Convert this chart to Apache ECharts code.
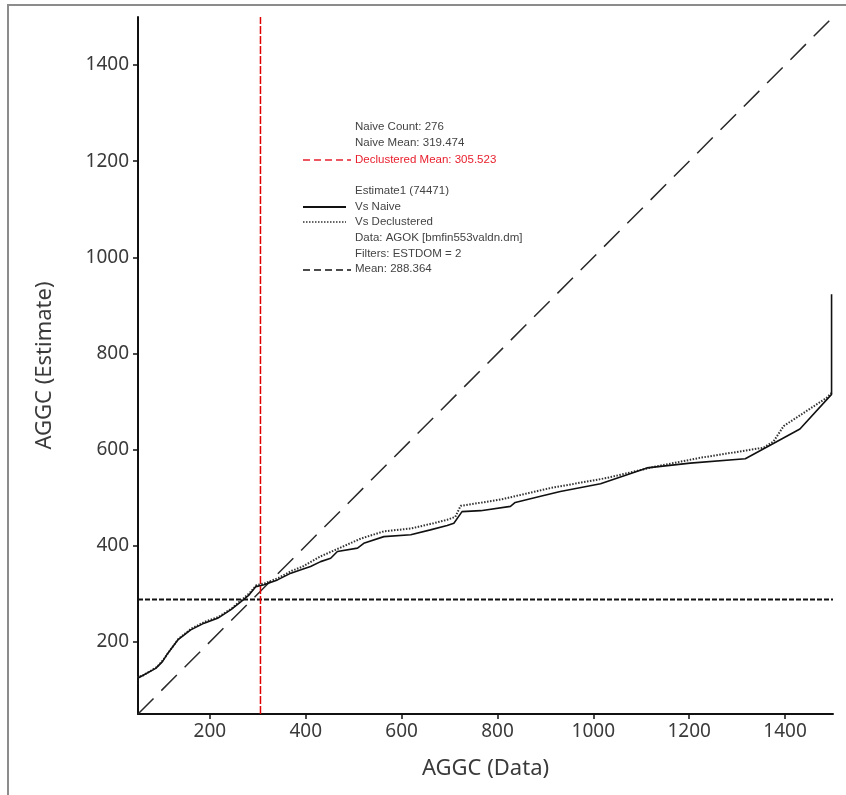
<!DOCTYPE html>
<html>
<head>
<meta charset="utf-8">
<script src="https://cdn.jsdelivr.net/npm/echarts@6/dist/echarts.min.js"></script>
<style>
  html, body { margin: 0; padding: 0; background: #fff; }
  #chart { width: 846px; height: 795px; }
</style>
</head>
<body>
<div id="chart"></div>
<script>
// Axis extents and tick values
const axisMin = 50;
const axisMax = 1500;
const xTickValues = [200, 400, 600, 800, 1000, 1200, 1400];
const yTickValues = [200, 400, 600, 800, 1000, 1200, 1400];

// Estimate quantiles against naive data quantiles
const naiveX = [50, 50, 56, 87, 101, 112, 133, 160, 188, 216, 244, 265, 282, 296, 313, 341, 369, 390, 410, 431, 452, 466, 508, 521, 563, 619, 660, 695, 709, 726, 765, 827, 837, 890, 931, 1015, 1112, 1202, 1317, 1365, 1431, 1497, 1497];
const naiveY = [110, 125, 128, 145, 159, 176, 204, 225, 239, 249, 267, 284, 298, 315, 319, 329, 343, 350, 357, 367, 374, 388, 395, 405, 419, 423, 433, 442, 447, 471, 473, 482, 490, 503, 513, 529, 562, 572, 581, 607, 643, 715, 923];

// Estimate quantiles against declustered data quantiles
const declX = [50, 50, 60, 90, 103, 115, 135, 162, 190, 218, 246, 266, 283, 297, 315, 343, 371, 392, 431, 470, 515, 563, 620, 667, 695, 712, 723, 806, 910, 1028, 1126, 1223, 1355, 1376, 1397, 1487, 1498];
const declY = [112, 127, 130, 148, 163, 180, 207, 228, 242, 252, 270, 287, 302, 318, 322, 333, 348, 356, 378, 395, 415, 430, 436, 447, 454, 460, 483, 496, 520, 541, 564, 583, 604, 617, 649, 708, 719];

// Summary statistics
const naiveCount = 276;
const naiveMean = 319.474;
const declusteredMean = 305.523;
const estimateMean = 288.364;

// Legend text
const statLines = ['Naive Count: ' + naiveCount, 'Naive Mean: ' + naiveMean, 'Declustered Mean: ' + declusteredMean];
const estLines = ['Estimate1 (74471)', 'Vs Naive', 'Vs Declustered', 'Data: AGOK [bmfin553valdn.dm]', 'Filters: ESTDOM = 2', 'Mean: ' + estimateMean];

const zip = (xs, ys) => xs.map((x, i) => [x, ys[i]]);

const chart = echarts.init(document.getElementById('chart'), null, { renderer: 'canvas' });

const tickFont = { fontFamily: 'Noto Sans', fontSize: 19, color: '#3a3a3a', formatter: (v) => String(v) };
const legendFont = 'Liberation Sans';
const textColor = '#444';

function legendText(x, y, text, color) {
  return {
    type: 'text', left: x, top: y - 6,
    style: { text: text, fill: color || textColor, font: '11.5px "' + legendFont + '"' },
    z: 50
  };
}
function legendLine(x1, x2, y, stroke, dash, width) {
  return {
    type: 'line', shape: { x1: x1, y1: y, x2: x2, y2: y },
    style: { stroke: stroke, lineWidth: width || 1.5, lineDash: dash || null },
    z: 50
  };
}

const legendX = 355;
const graphics = [
  {
    type: 'rect', shape: { x: 8, y: 5, width: 1000, height: 1000 },
    style: { fill: 'none', stroke: '#8c8c8c', lineWidth: 2 }, z: 0, silent: true
  },
  legendText(legendX, 127, statLines[0]),
  legendText(legendX, 143, statLines[1]),
  legendText(legendX, 159.5, statLines[2], '#e8202e'),
  legendLine(303, 351, 160, '#e8202e', [7, 4], 1.5),
  legendText(legendX, 191, estLines[0]),
  legendText(legendX, 207, estLines[1]),
  legendLine(303, 346, 207, '#111', null, 2),
  legendText(legendX, 222, estLines[2]),
  legendLine(303, 346, 222, '#333', [1.5, 1.5], 1.5),
  legendText(legendX, 238, estLines[3]),
  legendText(legendX, 254, estLines[4]),
  legendText(legendX, 269, estLines[5]),
  legendLine(303, 351, 270, '#111', [7, 4], 1.5)
];

const option = {
  backgroundColor: '#fff',
  animation: false,
  grid: { left: 138, right: 13, top: 17, bottom: 81, containLabel: false },
  xAxis: {
    type: 'value', min: axisMin, max: axisMax,
    name: 'AGGC (Data)', nameLocation: 'middle', nameGap: 44,
    nameTextStyle: { fontFamily: 'Noto Sans', fontSize: 22, color: '#3a3a3a' },
    axisLine: { show: true, onZero: false, lineStyle: { color: '#111', width: 2 } },
    axisTick: { show: true, length: 5, lineStyle: { color: '#111', width: 1.5 }, customValues: xTickValues },
    axisLabel: Object.assign({ margin: 8, customValues: xTickValues }, tickFont),
    splitLine: { show: false }
  },
  yAxis: {
    type: 'value', min: axisMin, max: axisMax,
    name: 'AGGC (Estimate)', nameLocation: 'middle', nameGap: 82, nameRotate: 90,
    nameTextStyle: { fontFamily: 'Noto Sans', fontSize: 22, color: '#3a3a3a' },
    axisLine: { show: true, onZero: false, lineStyle: { color: '#111', width: 2 } },
    axisTick: { show: true, length: 5, lineStyle: { color: '#111', width: 1.5 }, customValues: yTickValues },
    axisLabel: Object.assign({ margin: 9, customValues: yTickValues }, tickFont),
    splitLine: { show: false }
  },
  series: [
    {
      name: 'One to one', type: 'line', symbol: 'none', silent: true,
      data: [[axisMin, axisMin], [axisMax, axisMax]],
      lineStyle: { color: '#2a2a2a', width: 1.5, type: [22, 11] }, z: 2
    },
    {
      name: 'Mean', type: 'line', symbol: 'none', silent: true,
      data: [[axisMin, estimateMean], [axisMax, estimateMean]],
      lineStyle: { color: '#111', width: 2, type: [5, 2] }, z: 3
    },
    {
      name: 'Vs Declustered', type: 'line', symbol: 'none', silent: true,
      data: zip(declX, declY),
      lineStyle: { color: '#333', width: 2, type: [1.5, 1.5] }, z: 4
    },
    {
      name: 'Vs Naive', type: 'line', symbol: 'none', silent: true,
      data: zip(naiveX, naiveY),
      lineStyle: { color: '#111', width: 1.6 }, z: 5
    },
    {
      name: 'Declustered Mean', type: 'line', symbol: 'none', silent: true,
      data: [[declusteredMean, axisMin], [declusteredMean, axisMax]],
      lineStyle: { color: '#e00000', width: 1.5, type: [8, 2] }, z: 6
    }
  ],
  graphic: graphics
};

chart.setOption(option);
</script>
</body>
</html>
